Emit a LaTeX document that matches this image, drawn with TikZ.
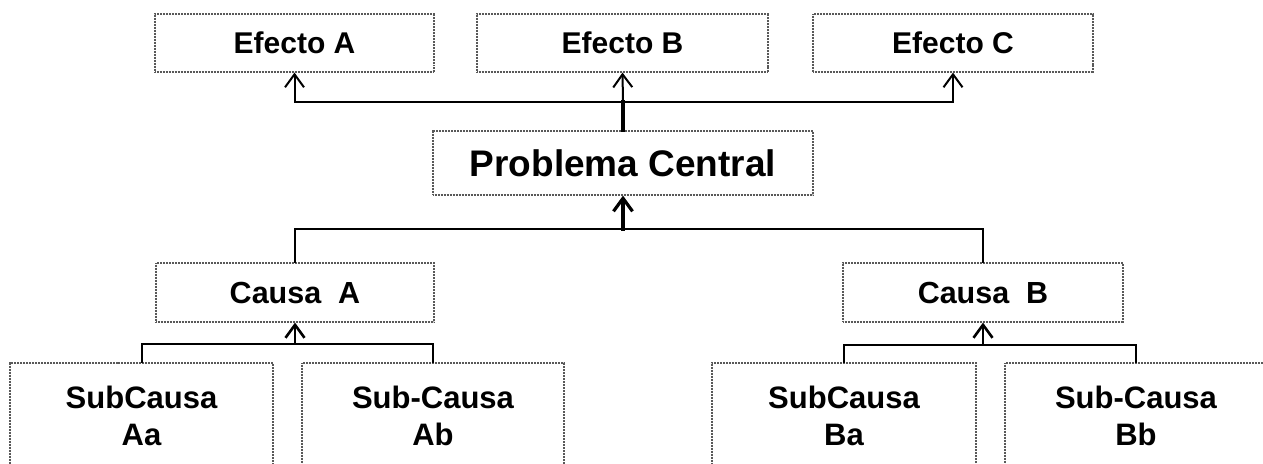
\documentclass[tikz,border=0pt]{standalone}
\usepackage{fontspec}
\setmainfont{Liberation Sans}
\usetikzlibrary{arrows.meta}
\begin{document}
\begin{tikzpicture}[x=1pt,y=-1pt,
  box/.style={draw=black!65, line width=1.2pt, dash pattern=on 1pt off 0.5pt,
    fill=white, inner sep=0pt, align=center, font=\bfseries\fontsize{30}{36}\selectfont},
  bigbox/.style={box, font=\bfseries\fontsize{37}{44}\selectfont},
  causebox/.style={box, font=\bfseries\fontsize{30.5}{36}\selectfont},
  subbox/.style={box, font=\bfseries\fontsize{31}{37}\selectfont},
  link/.style={line width=2pt, line cap=rect},
  arrowlink/.style={link, -{Straight Barb[length=13pt,width=19pt]}},
  heavy/.style={line width=3.2pt},
]
\clip (0,0) rectangle (1263,463);
\fill[white] (0,0) rectangle (1263,463);

% effects
\node[box, minimum width=279pt, minimum height=58pt] (ea) at (294.5,43) {Efecto A};
\node[box, minimum width=291pt, minimum height=58pt] (eb) at (622.5,43) {Efecto B};
\node[box, minimum width=280pt, minimum height=58pt] (ec) at (953,43) {Efecto C};

% central problem
\node[bigbox, minimum width=380pt, minimum height=64pt] (pc) at (623,163) {Problema Central};

% causes
\node[causebox, minimum width=278pt, minimum height=59pt] (ca) at (295,292.5) {Causa~~A};
\node[causebox, minimum width=280pt, minimum height=59pt] (cb) at (983,292.5) {Causa~~B};

% sub-causes (lower edge runs off the page)
\node[subbox, minimum width=263pt, minimum height=106pt] (aa) at (141.5,416) {SubCausa\\Aa};
\node[subbox, minimum width=262pt, minimum height=106pt] (ab) at (433,416) {Sub-Causa\\Ab};
\node[subbox, minimum width=264pt, minimum height=106pt] (ba) at (844,416) {SubCausa\\Ba};
\node[subbox, minimum width=262pt, minimum height=106pt] (bb) at (1136,416) {Sub-Causa\\Bb};

% junction points
\coordinate (ej) at (623,102);
\coordinate (cj) at (623,229);
\coordinate (aj) at (295,344);
\coordinate (bj) at (983,345);

% problem -> effects
\draw[link, heavy] (pc.north) -- (ej);
\draw[arrowlink] (ej) -- (eb.south);
\draw[arrowlink] (ej) -| (ea.south);
\draw[arrowlink] (ej) -| (ec.south);

% causes -> problem
\draw[arrowlink, heavy] (cj) -- (pc.south);
\draw[link] (cj) -| (ca.north);
\draw[link] (cj) -| (cb.north);

% sub-causes -> causes
\draw[arrowlink, line width=2.6pt] (aj) -- (ca.south);
\draw[link] (aj) -| (aa.north);
\draw[link] (aj) -| (ab.north);
\draw[arrowlink, line width=2.6pt] (bj) -- (cb.south);
\draw[link] (bj) -| (ba.north);
\draw[link] (bj) -| (bb.north);
\end{tikzpicture}
\end{document}
